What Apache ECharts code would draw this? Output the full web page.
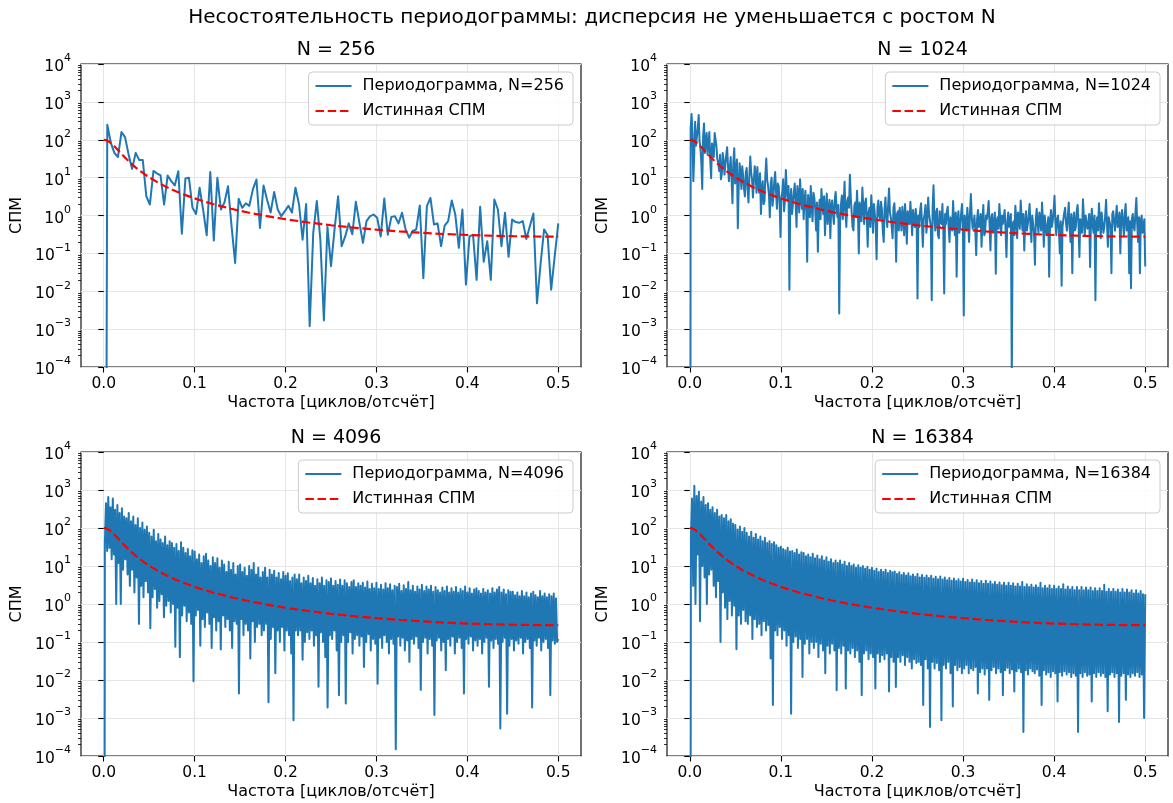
<!DOCTYPE html>
<html>
<head>
<meta charset="utf-8">
<script src="https://cdn.jsdelivr.net/npm/echarts@6/dist/echarts.min.js"></script>
<style>
html,body{margin:0;padding:0;background:#fff;}
#chart{width:1173px;height:803px;}
</style>
</head>
<body>
<div id="chart"></div>
<script>
// ---------------- data ----------------
const suptitle = 'Несостоятельность периодограммы: дисперсия не уменьшается с ростом N';
const panelTitles = ['N = 256', 'N = 1024', 'N = 4096', 'N = 16384'];
const periodLabels = ['Периодограмма, N=256', 'Периодограмма, N=1024', 'Периодограмма, N=4096', 'Периодограмма, N=16384'];
const trueLabel = 'Истинная СПМ';
const xLabel = 'Частота [циклов/отсчёт]';
const yLabel = 'СПМ';
const xTicks = [0, 0.1, 0.2, 0.3, 0.4, 0.5];
const yTicks = [1e-4, 1e-3, 1e-2, 1e-1, 1, 10, 100, 1000, 10000];
// frequency spacing of the plotted samples of each panel [cycles/sample]
const freqStep = [1 / 256, 1 / 1024, 1 / 800, 1 / 800];

// true spectral density (red dashed)
const trueFreq = [0, 0.0025, 0.005, 0.0075, 0.01, 0.0125, 0.015, 0.02, 0.025, 0.03,
  0.035, 0.04, 0.045, 0.05, 0.06, 0.07, 0.08, 0.09, 0.1, 0.11,
  0.12, 0.14, 0.16, 0.18, 0.2, 0.225, 0.25, 0.275, 0.3, 0.325,
  0.35, 0.375, 0.4, 0.425, 0.45, 0.475, 0.5];
const trueSpm = [100, 97.8, 91.8, 83.3, 73.8, 64.3, 55.6, 41.3, 31.1, 23.9,
  18.7, 15.0, 12.3, 10.2, 7.33, 5.52, 4.30, 3.45, 2.83, 2.36,
  2.01, 1.51, 1.18, 0.958, 0.798, 0.654, 0.552, 0.478, 0.423, 0.381,
  0.349, 0.324, 0.306, 0.293, 0.284, 0.279, 0.277];

// periodogram N=256
const psd256 = [
  1e-30, 250, 83, 45, 35, 160, 117, 41, 17, 45, 29, 29, 3.2, 1.95, 15, 13,
  11.4, 1.95, 11.4, 8.1, 6.2, 14.7, 0.33, 9.5, 9.9, 1.6, 1.1, 5.4, 1.4, 0.3, 14, 0.22,
  9.9, 1.44, 2.2, 5.9, 0.52, 0.056, 2.75, 1.6, 2.1, 1.8, 4.9, 8.9, 0.47, 6.2, 2.6, 1.2,
  4.2, 1.44, 0.96, 1.3, 1.8, 1.2, 5.4, 1.95, 0.23, 2.0, 0.0012, 0.35, 2.4, 0.23, 0.0017, 0.5,
  0.046, 0.43, 3.2, 0.155, 0.28, 0.62, 0.32, 2.3, 0.64, 0.19, 0.71, 0.96, 1.06, 0.87, 0.28, 2.8,
  0.31, 0.92, 0.96, 0.62, 1.18, 0.43, 0.26, 0.39, 0.43, 1.84, 0.022, 1.76, 2.9, 0.58, 0.62, 0.155,
  0.54, 0.71, 2.5, 1.06, 0.14, 1.44, 0.015, 0.28, 0.31, 0.02, 1.7, 0.06, 0.21, 0.02, 2.65, 1.44,
  0.155, 1.18, 0.081, 0.78, 0.67, 0.64, 0.71, 0.24, 0.52, 1.13, 0.0048, 0.05, 0.43, 0.3, 0.011, 0.085,
  0.62];

// periodogram N=1024
const psd1024 = [
  1e-30,200, 480,150, 8,40, 300,70, 120,200, 450,90, 60,25, 5,120, 270,45, 90,150, 40,70, 160,30, 9.6,80, 55,35, 150,100, 66,30,
  25,15, 40,9, 12,45, 30,12, 22,40, 63,20, 8,18, 35,9, 2.1,25, 60,7, 14,30, 0.46,6, 24,13, 5,20, 11,5, 3.2,14,
  18,5, 2.2,11, 36,14, 9,3, 7.8,20, 12,4, 19,6, 4,13, 1.1,5, 8,2, 2.4,12, 32,9, 6,3.5, 0.9,7, 10,1.8, 3,8,
  14,4, 1.5,7, 6,2, 0.27,3, 4,9, 1.3,2.5, 16,5, 2.5,6, 0.011,3, 5,1.1, 1.2,4, 7,2.2, 0.5,6, 3.5,1.2, 9,2.8, 1.5,5,
  0.8,2.4, 4.5,1.2, 0.06,3.5, 2.2,0.9, 6,1.8, 0.7,4, 3,1.5, 0.4,2.2, 0.11,1.3, 2.6,0.8, 5,2, 1.1,3.2, 0.3,1.4, 3.8,0.6, 1.3,2.6, 0.25,1.7,
  2.5,1.1, 0.6,2.6, 4.2,1.5, 0.9,1.9, 0.0026,0.7, 2,3.4, 0.8,2, 7.8,1.2, 0.5,2.4, 3,1.6, 12,2.9, 1.2,0.5, 0.4,1.8, 2.2,0.9, 4.5,1.3, 0.1,2.2,
  1.5,0.7, 5.5,1.8, 0.6,2.1, 2.8,0.9, 0.15,1.2, 1.6,0.5, 3.4,1.4, 0.35,2, 1.1,0.6, 0.07,1.7, 2.5,1, 0.8,2.3, 1.4,0.4, 0.2,1.5, 3,0.9, 0.5,1.9,
  5.2,1.2, 0.9,0.5, 0.25,1.6, 2.1,0.7, 0.06,1.1, 1.3,0.4, 1.6,0.9, 0.4,1.7, 0.9,0.3, 2,0.8, 0.18,1.3, 1.2,0.6, 2.3,0.9, 0.3,1.4, 0.7,0.5, 1.5,0.8,
  0.0064,1, 0.5,1.4, 2.1,0.6, 0.15,0.8, 1.1,1.9, 0.35,0.7, 3,1.1, 1.2,0.5, 0.0058,1.6, 6.3,0.9, 0.4,1.2, 1.5,0.3, 0.25,1.3, 0.8,0.6, 2,0.4, 0.0087,1.1,
  0.6,1.3, 1.7,0.5, 0.2,0.9, 1,0.4, 2.4,0.7, 0.3,1.2, 0.024,0.8, 1.3,0.35, 0.5,1.1, 2,0.6, 0.0023,1, 0.7,0.4, 1.6,0.7, 0.2,1.2, 3.7,0.9, 0.45,0.6,
  1,0.4, 0.09,0.8, 1.4,0.5, 0.6,1.1, 0.15,0.7, 1.9,0.3, 0.35,1, 0.8,1.3, 2.4,0.6, 0.12,0.9, 1.1,0.35, 0.5,1.2, 0.029,0.7, 0.9,0.45, 2,0.8, 0.3,1,
  0.6,0.9, 1.4,0.4, 0.08,0.7, 1.2,0.5, 0.45,1.1, 5e-5,0.6, 0.7,0.3, 1.8,0.8, 0.25,1.2, 1,0.45, 2.5,0.9, 0.4,1.1, 0.12,0.6, 1.3,0.4, 0.6,1, 2,0.5,
  0.2,1, 0.9,0.35, 0.05,0.8, 1.5,0.6, 0.35,1.2, 0.8,0.4, 2.2,0.7, 0.15,1, 1.1,0.3, 0.5,0.9, 0.024,0.6, 1.4,0.5, 0.7,1.3, 3.3,0.7, 0.3,0.8, 1,0.4,
  0.1,0.7, 0.014,0.5, 0.8,1.2, 1.6,0.6, 0.4,0.9, 2.2,0.5, 0.2,1.1, 0.03,0.7, 1.2,0.4, 0.5,1.3, 1.9,0.6, 0.08,0.8, 0.9,0.35, 2.7,0.9, 0.3,1, 1.1,0.45,
  0.6,1.1, 0.044,0.7, 1.5,0.5, 0.35,1, 0.0058,0.6, 0.9,0.4, 2.1,0.8, 0.25,1.2, 1.2,0.35, 0.5,1, 2.6,0.6, 0.15,0.9, 0.8,0.5, 0.03,1.1, 1.3,0.7, 0.4,0.9,
  1.8,0.5, 0.6,1.2, 0.1,0.8, 1.4,0.6, 0.3,1.1, 2,0.4, 0.7,0.9, 0.03,0.7, 0.012,0.8, 1.1,0.5, 0.4,1.2, 2.9,0.6, 0.2,0.9, 0.03,0.7, 1,0.35, 0.5,0.8,
  0.045];

// periodogram N=4096 (upper / lower extremes of the dense trace)
const psd4096 = [
  1e-30, 40, 450, 25, 650, 30, 350, 15, 600, 20,
  300, 1.0, 400, 12, 250, 1.0, 330, 8, 200, 15,
  180, 6, 250, 3, 150, 8, 200, 2, 120, 5,
  180, 0.3, 100, 3, 140, 1.5, 90, 4, 110, 2,
  75, 0.23, 60, 1.5, 90, 2.5, 45, 0.8, 70, 1.2,
  50, 1.8, 40, 0.45, 60, 0.9, 35, 1.2, 45, 0.6,
  40, 1, 30, 0.075, 38, 0.8, 25, 0.04, 42, 0.5,
  30, 0.9, 22, 0.35, 28, 0.6, 18, 0.3, 26, 0.0093,
  24, 0.5, 15, 0.7, 20, 0.08, 12, 0.4, 18, 0.25,
  21, 0.6, 14, 0.3, 10, 0.07, 17, 0.45, 12, 0.2,
  16, 0.35, 9, 0.064, 14, 0.5, 11, 0.25, 7, 0.4,
  13, 0.2, 8, 0.07, 12, 0.35, 6, 0.3, 10, 0.0044,
  11, 0.4, 7, 0.15, 9, 0.3, 5.5, 0.2, 10, 0.037,
  8, 0.35, 12, 0.1, 6, 0.25, 9, 0.3, 5, 0.15,
  7, 0.2, 9, 0.3, 5, 0.0026, 8, 0.12, 6, 0.25,
  7.5, 0.015, 5, 0.2, 6.5, 0.1, 4.5, 0.25, 7, 0.06,
  5.5, 0.2, 6.4, 0.15, 4, 0.05, 5, 0.00087, 6, 0.2,
  4.5, 0.15, 6, 0.2, 3.5, 0.034, 5, 0.1, 4, 0.18,
  5.5, 0.12, 3.5, 0.2, 4.8, 0.08, 3, 0.15, 4.5, 0.0066,
  3.5, 0.18, 5, 0.1, 3, 0.04, 4.2, 0.0019, 3.8, 0.15,
  4.7, 0.12, 3, 0.2, 4, 0.06, 3.2, 0.004, 4.4, 0.1,
  3, 0.15, 4.2, 0.0024, 3.5, 0.1, 2.8, 0.18, 3.8, 0.05,
  4.2, 0.12, 2.8, 0.15, 3.5, 0.08, 3, 0.14, 3.6, 0.022,
  2.7, 0.1, 3.9, 0.16, 2.5, 0.06, 3.4, 0.12, 2.6, 0.09,
  3.6, 0.008, 2.5, 0.13, 3.2, 0.07, 2.4, 0.15, 3.5, 0.1,
  2.6, 0.05, 3.3, 0.12, 2.3, 0.09, 3, 0.00015, 2.8, 0.14,
  3.4, 0.08, 2.2, 0.13, 3.1, 0.06, 2.5, 0.11, 3.8, 0.03,
  2.3, 0.12, 3, 0.09, 2.1, 0.14, 2.9, 0.07, 2.4, 0.0055,
  3.2, 0.1, 2.2, 0.13, 2.9, 0.05, 2.4, 0.12, 3, 0.08,
  2.1, 0.0012, 2.8, 0.11, 2.3, 0.13, 2, 0.06, 2.7, 0.1,
  2.2, 0.018, 2.9, 0.12, 2, 0.08, 2.6, 0.14, 2.1, 0.05,
  2.8, 0.1, 2, 0.13, 2.5, 0.07, 2.2, 0.0044, 2.9, 0.12,
  2, 0.09, 2.6, 0.14, 1.9, 0.06, 2.4, 0.11, 2.6, 0.08,
  2.2, 0.12, 1.9, 0.05, 2.5, 0.1, 2, 0.13, 2.3, 0.0066,
  1.9, 0.11, 2.6, 0.07, 2, 0.12, 2.4, 0.09, 2.8, 0.00053,
  2, 0.1, 2.4, 0.13, 1.8, 0.0013, 2.3, 0.08, 2.1, 0.12,
  2.1, 0.06, 1.7, 0.11, 2, 0.09, 1.6, 0.13, 2.2, 0.05,
  1.6, 0.1, 2, 0.12, 1.5, 0.07, 1.9, 0.0019, 2.1, 0.11,
  1.7, 0.08, 1.5, 0.13, 2.2, 0.06, 1.6, 0.1, 1.9, 0.12,
  1.5, 0.07, 1.8, 0.004, 1.6, 0.11, 1.9, 0.09, 1.4, 0.1,
  0.12];

// periodogram N=16384 (upper / lower extremes of the dense trace)
const psd16384 = [
  1e-30, 60, 600, 3, 1300, 1.0, 700, 20, 900, 0.35,
  500, 10, 650, 5, 400, 1.0, 450, 6, 300, 8,
  350, 3, 250, 1.5, 300, 4, 200, 0.1, 220, 2,
  180, 0.8, 220, 0.4, 150, 1.2, 170, 0.5, 130, 0.9,
  120, 0.064, 90, 0.5, 110, 0.3, 80, 0.7, 100, 0.35,
  75, 0.3, 60, 0.5, 80, 0.12, 55, 0.4, 70, 0.25,
  50, 0.3, 60, 0.15, 45, 0.35, 55, 0.2, 40, 0.28,
  45, 0.037, 38, 0.0022, 42, 0.2, 35, 0.15, 30, 0.25,
  32, 0.12, 28, 0.2, 26, 0.08, 30, 0.15, 24, 0.0013,
  25, 0.1, 22, 0.14, 27, 0.07, 20, 0.12, 23, 0.012,
  22, 0.09, 18, 0.12, 20, 0.05, 17, 0.1, 21, 0.07,
  16, 0.1, 19, 0.04, 15, 0.09, 18, 0.06, 14, 0.015,
  17, 0.08, 13, 0.05, 15, 0.09, 12, 0.06, 14, 0.0054,
  12, 0.07, 14, 0.05, 11, 0.08, 13, 0.006, 10, 0.06,
  12, 0.05, 10, 0.07, 11, 0.04, 9, 0.06, 10.5, 0.03,
  9, 0.004, 10, 0.05, 8.5, 0.06, 9.5, 0.035, 8, 0.05,
  9, 0.04, 7.5, 0.006, 8.5, 0.05, 7, 0.03, 8, 0.045,
  7, 0.035, 8, 0.05, 6.5, 0.005, 7.5, 0.04, 6.8, 0.03,
  7.2, 0.0065, 6.2, 0.04, 6.8, 0.03, 5.8, 0.045, 6.5, 0.025,
  5.6, 0.04, 6.4, 0.03, 5.4, 0.02, 6, 0.035, 5.2, 0.028,
  6.2, 0.03, 5, 0.025, 5.8, 0.0022, 4.9, 0.035, 5.6, 0.02,
  4.8, 0.00058, 5.5, 0.03, 4.6, 0.02, 5.2, 0.028, 4.5, 0.018,
  5.3, 0.00087, 4.4, 0.025, 5, 0.02, 4.2, 0.03, 4.8, 0.015,
  4.1, 0.002, 4.7, 0.025, 4, 0.018, 4.5, 0.022, 3.9, 0.015,
  4.6, 0.02, 3.8, 0.025, 4.3, 0.015, 3.7, 0.02, 4.4, 0.018,
  3.6, 0.022, 4.2, 0.0044, 3.5, 0.016, 4, 0.02, 3.4, 0.014,
  4.1, 0.02, 3.4, 0.003, 3.9, 0.018, 3.3, 0.022, 3.8, 0.015,
  3.2, 0.02, 3.7, 0.016, 3.1, 0.004, 3.6, 0.018, 3, 0.021,
  3.6, 0.015, 3, 0.019, 3.5, 0.005, 2.9, 0.017, 3.4, 0.02,
  2.9, 0.016, 3.8, 0.00043, 2.8, 0.018, 3.3, 0.014, 2.8, 0.02,
  3.2, 0.017, 2.7, 0.015, 3.1, 0.019, 2.7, 0.013, 3.6, 0.0022,
  2.6, 0.018, 3, 0.014, 2.6, 0.016, 3.1, 0.012, 2.5, 0.017,
  3, 0.015, 2.5, 0.0027, 2.9, 0.016, 2.5, 0.013, 3.3, 0.017,
  2.4, 0.014, 2.9, 0.016, 2.4, 0.012, 2.8, 0.015, 2.3, 0.013,
  2.8, 0.00043, 2.3, 0.015, 2.8, 0.012, 2.3, 0.016, 2.7, 0.013,
  2.3, 0.014, 2.7, 0.0027, 2.2, 0.015, 2.6, 0.012, 2.2, 0.016,
  2.6, 0.013, 2.2, 0.015, 3.2, 0.012, 2.1, 0.0015, 2.5, 0.014,
  2.1, 0.016, 2.5, 0.012, 2.1, 0.015, 2.4, 0.00079, 2, 0.013,
  2.5, 0.015, 2, 0.003, 2.4, 0.014, 2, 0.012, 2.3, 0.015,
  1.9, 0.013, 2.3, 0.016, 1.9, 0.012, 2.2, 0.014, 1.8, 0.001,
  1.8];

// ---------------- layout ----------------
const W = 1173;
const FONT = 'DejaVu Sans';
const grids = [
  { left: 81, top: 64, width: 500, height: 303 },
  { left: 667, top: 64, width: 501, height: 303 },
  { left: 81, top: 452, width: 500, height: 304 },
  { left: 667, top: 452, width: 501, height: 304 }
];
const psdSets = [psd256, psd1024, psd4096, psd16384];

const minorTicks = [];
for (let e = -4; e < 4; e++) for (let m = 2; m <= 9; m++) minorTicks.push(+(m + 'e' + e));

function expLabel(v) {
  const e = Math.round(Math.log10(v));
  return '{b|10}{s|' + (e < 0 ? '\u2212' + (-e) : e) + '}';
}

const option = {
  animation: false,
  backgroundColor: '#ffffff',
  textStyle: { fontFamily: FONT },
  title: [{
    text: suptitle, left: 587, top: 3, textAlign: 'center',
    textStyle: { fontSize: 20, fontWeight: 'normal', color: '#000', fontFamily: FONT }
  }].concat(grids.map((g, k) => ({
    text: panelTitles[k], left: g.left + g.width / 2, top: g.top - 28, textAlign: 'center',
    textStyle: { fontSize: 19, fontWeight: 'normal', color: '#000', fontFamily: FONT }
  }))),
  grid: grids.map(g => Object.assign({ show: true, borderColor: '#000', borderWidth: 1.1, backgroundColor: 'transparent', containLabel: false }, g)),
  legend: grids.map((g, k) => ({
    data: [periodLabels[k], trueLabel],
    orient: 'vertical',
    right: W - (g.left + g.width) + 8,
    top: g.top + 8,
    itemWidth: 36, itemHeight: 12, itemGap: 9,
    padding: [6, 9, 6, 6],
    backgroundColor: 'rgba(255,255,255,0.85)',
    borderColor: '#cccccc', borderWidth: 1, borderRadius: 4,
    itemStyle: { opacity: 0 },
    textStyle: { fontSize: 16, color: '#000', fontFamily: FONT, padding: [0, 0, 0, 6] },
    selectedMode: false
  })),
  xAxis: grids.map((g, k) => ({
    type: 'value', gridIndex: k, min: -0.025, max: 0.525,
    name: xLabel, nameLocation: 'middle', nameGap: 28,
    nameTextStyle: { fontSize: 16, color: '#000', fontFamily: FONT },
    axisLine: { show: false },
    axisTick: { show: true, length: 5.5, customValues: xTicks, lineStyle: { color: '#000', width: 1.1 } },
    axisLabel: { customValues: xTicks, formatter: v => v.toFixed(1), margin: 9, fontSize: 15.5, color: '#000', fontFamily: FONT },
    splitLine: { show: true, lineStyle: { color: '#e6e6e6', width: 1.1 } }
  })),
  yAxis: [].concat(...grids.map((g, k) => [{
    type: 'log', logBase: 10, gridIndex: k, min: 1e-4, max: 1e4, position: 'left',
    name: yLabel, nameLocation: 'middle', nameGap: 56,
    nameTextStyle: { fontSize: 16, color: '#000', fontFamily: FONT },
    axisLine: { show: false },
    axisTick: { show: true, length: 5.5, customValues: yTicks, lineStyle: { color: '#000', width: 1.1 } },
    axisLabel: {
      customValues: yTicks, formatter: expLabel, margin: 10, color: '#000',
      rich: {
        b: { fontSize: 15.5, fontFamily: FONT, color: '#000', lineHeight: 22, verticalAlign: 'bottom' },
        s: { fontSize: 11, fontFamily: FONT, color: '#000', verticalAlign: 'top' }
      }
    },
    splitLine: { show: true, lineStyle: { color: '#e6e6e6', width: 1.1 } }
  }, {
    type: 'log', logBase: 10, gridIndex: k, min: 1e-4, max: 1e4, position: 'left', offset: 0,
    axisLine: { show: false },
    axisTick: { show: true, length: 3, customValues: minorTicks, lineStyle: { color: '#000', width: 0.8 } },
    axisLabel: { show: false },
    splitLine: { show: false }
  }])),
  series: [].concat(...grids.map((g, k) => [{
    type: 'line', name: periodLabels[k], xAxisIndex: k, yAxisIndex: 2 * k,
    data: psdSets[k].map((v, i) => [i * freqStep[k], v]),
    symbol: 'none', showSymbol: false, clip: true, z: 2,
    lineStyle: { color: '#1f77b4', width: 2, join: 'round' },
    itemStyle: { color: '#1f77b4' }
  }, {
    type: 'line', name: trueLabel, xAxisIndex: k, yAxisIndex: 2 * k,
    data: trueFreq.map((f, i) => [f, trueSpm[i]]),
    symbol: 'none', showSymbol: false, clip: true, z: 3,
    lineStyle: { color: '#ff0000', width: 2.2, type: [8.5, 3.7] },
    itemStyle: { color: '#ff0000' }
  }]))
};

const chart = echarts.init(document.getElementById('chart'), null, { renderer: 'canvas', width: 1173, height: 803 });
chart.setOption(option);
</script>
</body>
</html>
